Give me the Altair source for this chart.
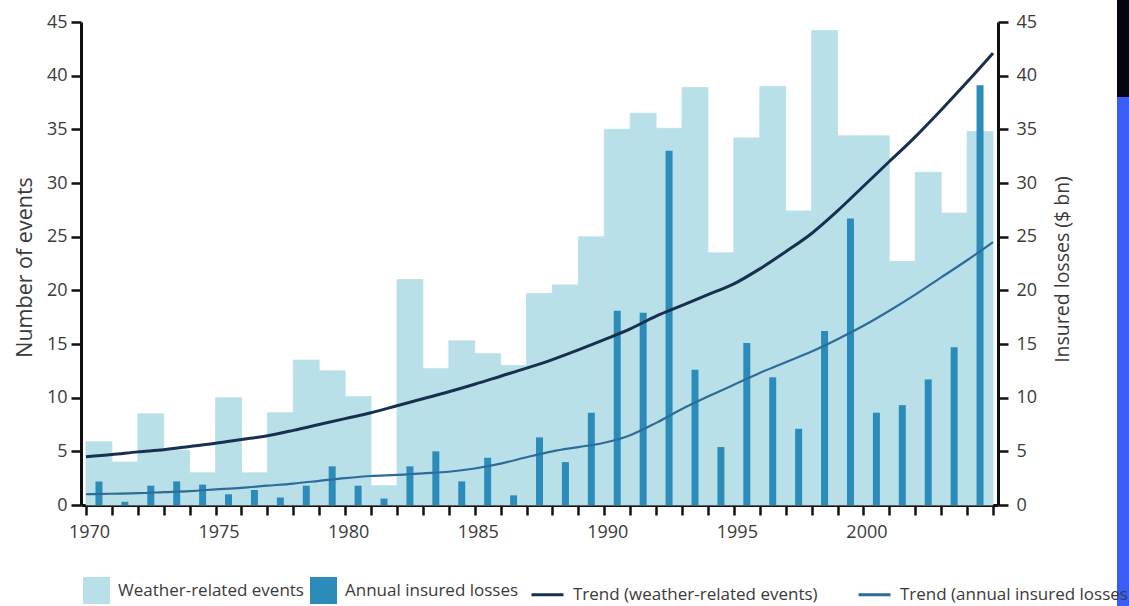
import altair as alt
import pandas as pd

# Weather-related catastrophes and insured losses, 1970-2004
years = list(range(1970, 2005))
weather_events = [5.9, 4.0, 8.5, 5.1, 3.0, 10.0, 3.0, 8.6, 13.5, 12.5,
                  10.1, 1.8, 21.0, 12.7, 15.3, 14.1, 13.0, 19.7, 20.5, 25.0,
                  35.0, 36.5, 35.1, 38.9, 23.5, 34.2, 39.0, 27.4, 44.2, 34.4,
                  34.4, 22.7, 31.0, 27.2, 34.8]
insured_losses = [2.2, 0.3, 1.8, 2.2, 1.9, 1.0, 1.4, 0.7, 1.8, 3.6,
                  1.8, 0.6, 3.6, 5.0, 2.2, 4.4, 0.9, 6.3, 4.0, 8.6,
                  18.1, 17.9, 33.0, 12.6, 5.4, 15.1, 11.9, 7.1, 16.2, 26.7,
                  8.6, 9.3, 11.7, 14.7, 39.1]

# Smoothed trends, sampled at the year boundaries 1970-2005
trend_years = list(range(1970, 2006))
trend_events = [4.5, 4.7, 4.95, 5.15, 5.45, 5.75, 6.1, 6.45, 6.95, 7.5,
                8.05, 8.6, 9.25, 9.9, 10.55, 11.25, 12.0, 12.75, 13.55, 14.45,
                15.4, 16.4, 17.6, 18.6, 19.6, 20.6, 22.0, 23.6, 25.3, 27.4,
                29.7, 32.0, 34.3, 36.8, 39.4, 42.1]
trend_losses = [1.0, 1.05, 1.1, 1.2, 1.3, 1.45, 1.6, 1.8, 2.0, 2.25,
                2.5, 2.7, 2.8, 2.95, 3.1, 3.4, 3.85, 4.45, 5.0, 5.4,
                5.8, 6.5, 7.65, 8.95, 10.1, 11.2, 12.3, 13.3, 14.3, 15.45,
                16.7, 18.1, 19.6, 21.2, 22.8, 24.5]

bar_names = ["Weather-related events", "Annual insured losses"]
line_names = ["Trend (weather-related events)", "Trend (annual insured losses)"]

LIGHT = "#b9e0e8"
DARK = "#2b8cba"
NAVY = "#17304f"
MID = "#2d6c98"
INK = "#111111"
TEXT = "#3a3a3a"
FONT = "Open Sans"

bars = pd.DataFrame({"year": years, "events": weather_events, "losses": insured_losses})
bars["year_end"] = bars["year"] + 1
bars["mid"] = bars["year"] + 0.5
bars["events_name"] = bar_names[0]
bars["losses_name"] = bar_names[1]

trends = pd.DataFrame({"year": trend_years, "events_trend": trend_events,
                       "losses_trend": trend_losses})
trends["events_name"] = line_names[0]
trends["losses_name"] = line_names[1]

x_scale = alt.Scale(domain=[1970, 2005], nice=False, zero=False)
x_axis = alt.Axis(
    values=trend_years, format="d",
    labelExpr="datum.value % 5 == 0 && datum.value < 2005 ? datum.label : ''",
    title=None, grid=False, tickSize=10, tickWidth=2.5, tickColor=INK,
    domainColor=INK, domainWidth=3, labelOffset=3, labelPadding=8,
    labelFontSize=18, labelColor=TEXT, labelFlush=False, labelOverlap=False,
)

y_left_scale = alt.Scale(domain=[0, 45], nice=False)
y_right_scale = alt.Scale(domain=[0, 45], nice=False)
y_values = list(range(0, 50, 5))

left_axis = alt.Axis(
    orient="left", values=y_values, title="Number of events", grid=False,
    tickSize=10, tickWidth=2.5, tickColor=INK, domainColor=INK, domainWidth=3,
    labelFontSize=18, labelColor=TEXT, labelPadding=4,
    titleFontSize=21.5, titleFontWeight="normal", titleColor=TEXT,
    titleX=-56, titleY=245, titleAngle=270, titleAlign="center",
    titleBaseline="middle",
)
right_axis = alt.Axis(
    orient="right", values=y_values, title="Insured losses ($ bn)", grid=False,
    tickSize=10, tickWidth=2.5, tickColor=INK, domainColor=INK, domainWidth=3,
    labelFontSize=18, labelColor=TEXT, labelPadding=8,
    titleFontSize=19.5, titleFontWeight="normal", titleColor=TEXT,
    titleX=64, titleY=247, titleAngle=270, titleAlign="center",
    titleBaseline="middle",
)

fill_scale = alt.Scale(domain=bar_names, range=[LIGHT, DARK])
fill_legend = alt.Legend(
    title=None, orient="none", legendX=2, legendY=555, direction="horizontal",
    symbolType="square", symbolSize=729, symbolStrokeWidth=0,
    labelFontSize=17, labelColor=TEXT, labelOffset=8, columnPadding=6,
    labelLimit=400, padding=0,
)
stroke_scale = alt.Scale(domain=line_names, range=[NAVY, MID])
stroke_legend = alt.Legend(
    title=None, orient="none", legendX=449, legendY=555, direction="horizontal",
    symbolType="stroke", symbolSize=1024, symbolStrokeWidth=3,
    labelFontSize=17, labelColor=TEXT, labelOffset=8, columnPadding=34,
    labelLimit=400, padding=0,
)

# Year-wide event bars; a thin matching outline closes the seams between neighbours
events_bars = alt.Chart(bars).mark_bar(orient="vertical", stroke=LIGHT, strokeWidth=0.8).encode(
    x=alt.X("year:Q", scale=x_scale, axis=x_axis),
    x2="year_end:Q",
    y=alt.Y("events:Q", scale=y_left_scale, axis=left_axis),
    y2=alt.datum(0),
    color=alt.Color("events_name:N", scale=fill_scale, legend=fill_legend),
)

loss_bars = alt.Chart(bars).mark_bar(size=7, orient="vertical").encode(
    x=alt.X("mid:Q", scale=x_scale, axis=x_axis),
    y=alt.Y("losses:Q", scale=y_right_scale, axis=right_axis),
    color=alt.Color("losses_name:N", scale=fill_scale, legend=fill_legend),
)

events_trend = alt.Chart(trends).mark_line(strokeWidth=3, interpolate="monotone").encode(
    x=alt.X("year:Q", scale=x_scale, axis=x_axis),
    y=alt.Y("events_trend:Q", scale=y_left_scale, axis=None),
    stroke=alt.Stroke("events_name:N", scale=stroke_scale, legend=stroke_legend),
)

loss_trend = alt.Chart(trends).mark_line(strokeWidth=2.2, interpolate="monotone").encode(
    x=alt.X("year:Q", scale=x_scale, axis=x_axis),
    y=alt.Y("losses_trend:Q", scale=y_right_scale, axis=None),
    stroke=alt.Stroke("losses_name:N", scale=stroke_scale, legend=stroke_legend),
)

# Page edge band
edge = pd.DataFrame({"k": [0]})
edge_dark = alt.Chart(edge).mark_rect(color="#05050f").encode(
    x=alt.value(1036), x2=alt.value(1048), y=alt.value(-22), y2=alt.value(75)
)
edge_blue = alt.Chart(edge).mark_rect(color="#3a5ef5").encode(
    x=alt.value(1036), x2=alt.value(1048), y=alt.value(75), y2=alt.value(584)
)

chart = (
    alt.layer(events_bars, loss_bars, events_trend, loss_trend, edge_dark, edge_blue)
    .resolve_scale(y="independent")
    .properties(
        width=917, height=483,
        padding={"left": 81, "top": 22, "right": 131, "bottom": 101},
        autosize=alt.AutoSizeParams(type="none"),
        background="white",
    )
    .configure_view(stroke=None)
    .configure_axis(labelFont=FONT, titleFont=FONT)
    .configure_legend(labelFont=FONT)
)

chart.save("out.html", embed_options={"renderer": "svg", "actions": False})
